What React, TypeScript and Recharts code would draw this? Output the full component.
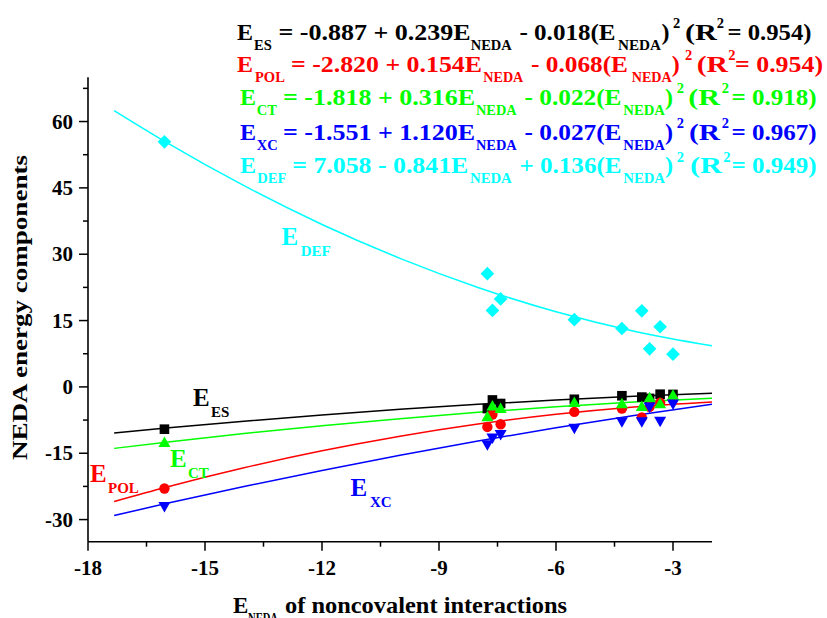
import React from 'react'
import { ComposedChart, Line, Scatter, XAxis, YAxis } from 'recharts'

// NEDA energy components vs E_NEDA, quadratic fits per component

const MOL_X = [-16.04, -7.76, -7.63, -7.42, -5.53, -4.31, -3.8, -3.6, -3.33, -3.0]
const ES = [-9.56, -4.9, -2.95, -3.75, -2.8, -2.0, -2.3, -2.6, -1.65, -1.7]
const POL = [-22.97, -9.05, -6.25, -8.45, -5.65, -4.9, -6.9, -4.5, -3.6, -2.8]
const CT = [-12.66, -6.8, -4.4, -4.97, -3.6, -3.9, -4.5, -2.5, -3.9, -1.95]
const XC = [-26.97, -13.0, -11.5, -10.7, -9.3, -7.8, -7.8, -4.5, -7.7, -3.8]
const DEF = [55.4, 25.6, 17.3, 19.9, 15.2, 13.2, 17.2, 8.6, 13.6, 7.4]

// fitted curves read at a few x positions
const FIT_X = [-17.33, -16, -14, -12, -10, -8, -6, -4, -2]
const ES_FIT = [-10.44, -9.32, -7.76, -6.35, -5.08, -3.95, -2.97, -2.13, -1.44]
const POL_FIT = [-25.91, -22.69, -18.3, -14.46, -11.16, -8.4, -6.19, -4.52, -3.4]
const CT_FIT = [-13.9, -12.51, -10.55, -8.78, -7.18, -5.75, -4.51, -3.43, -2.54]
const XC_FIT = [-29.07, -26.38, -22.52, -18.88, -15.45, -12.24, -9.24, -6.46, -3.9]
const DEF_FIT = [62.47, 55.33, 45.49, 36.73, 29.07, 22.49, 17.0, 12.6, 9.28]

const X_MAJOR = [-18, -15, -12, -9, -6, -3]
const X_MINOR = [-16.5, -13.5, -10.5, -7.5, -4.5]
const Y_MAJOR = [-30, -15, 0, 15, 30, 45, 60]
const Y_MINOR = [-22.5, -7.5, 7.5, 22.5, 37.5, 52.5, 67.5]

const FONT = "'Liberation Serif', 'Times New Roman', serif"
const TICK = 9
const GAP = 6

const pts = (ys: number[]) => MOL_X.map((x, i) => ({ x, y: ys[i] }))
const fit = (ys: number[]) => FIT_X.map((x, i) => ({ x, y: ys[i] }))

function YTick(props: any) {
  const { x, y, payload } = props
  const v = payload.value
  const major = Y_MAJOR.includes(v)
  const ax = x + TICK + GAP
  return (
    <g>
      <line x1={ax - (major ? 9 : 5)} x2={ax} y1={y} y2={y} stroke="#000" strokeWidth={1.5} />
      {major && (
        <text x={ax - 15} y={y} dy={7} textAnchor="end" fontFamily={FONT} fontWeight="bold" fontSize={21} fill="#000">
          {v}
        </text>
      )}
    </g>
  )
}

function XTick(props: any) {
  const { x, y, payload } = props
  const v = payload.value
  const major = X_MAJOR.includes(v)
  const ay = y - TICK - GAP
  return (
    <g>
      <line x1={x} x2={x} y1={ay} y2={ay + (major ? 9 : 5)} stroke="#000" strokeWidth={1.5} />
      {major && (
        <text x={x} y={ay + 33} textAnchor="middle" fontFamily={FONT} fontWeight="bold" fontSize={21} fill="#000">
          {v}
        </text>
      )}
    </g>
  )
}

const Square = (p: any) => <rect x={p.cx - 4.8} y={p.cy - 4.8} width={9.6} height={9.6} fill="#000" />
const Dot = (p: any) => <circle cx={p.cx} cy={p.cy} r={5.2} fill="#ff0000" />
const TriUp = (p: any) => (
  <path d={`M${p.cx},${p.cy - 6.3} L${p.cx + 6},${p.cy + 4.2} L${p.cx - 6},${p.cy + 4.2} Z`} fill="#00ff00" />
)
const TriDown = (p: any) => (
  <path d={`M${p.cx},${p.cy + 6.3} L${p.cx + 6},${p.cy - 4.2} L${p.cx - 6},${p.cy - 4.2} Z`} fill="#0000ff" />
)
const Diamond = (p: any) => (
  <path d={`M${p.cx},${p.cy - 6.8} L${p.cx + 6.8},${p.cy} L${p.cx},${p.cy + 6.8} L${p.cx - 6.8},${p.cy} Z`} fill="#00ffff" />
)

// one text run placed at x (optionally stretched to width w)
type Seg = [string, 'n' | 'sub' | 'sup', number, number?]

function Rich({ y, size, sub, color, segs }: { y: number; size: number; sub: number; color: string; segs: Seg[] }) {
  return (
    <g fontFamily={FONT} fontWeight="bold" fill={color}>
      {segs.map(([t, k, x, w], i) => (
        <text
          key={i}
          x={x}
          y={k === 'sub' ? y + size * 0.42 : k === 'sup' ? y - size * 0.48 : y}
          fontSize={k === 'n' ? size : sub}
          textLength={w}
          lengthAdjust={w ? 'spacingAndGlyphs' : undefined}
          style={{ whiteSpace: 'pre' }}
        >
          {t}
        </text>
      ))}
    </g>
  )
}

const ROW1: Seg[] = [
  ['E', 'n', 237], ['ES', 'sub', 254],
  ['= -0.887 + 0.239E', 'n', 278.5, 192], ['NEDA', 'sub', 470.7, 41],
  ['- 0.018(E', 'n', 519.5, 96], ['NEDA', 'sub', 618, 43],
  [')', 'n', 661.5], ['2', 'sup', 673], ['(R', 'n', 685, 32], ['2', 'sup', 716.7],
  ['= 0.954)', 'n', 727.5, 84],
]
const ROW2: Seg[] = [
  ['E', 'n', 237], ['POL', 'sub', 255],
  ['= -2.820 + 0.154E', 'n', 291, 191], ['NEDA', 'sub', 483.3, 40],
  ['- 0.068(E', 'n', 531, 97], ['NEDA', 'sub', 631.7, 40],
  [')', 'n', 671.7], ['2', 'sup', 685], ['(R', 'n', 696.7, 31.3], ['2', 'sup', 728.3],
  ['= 0.954)', 'n', 735, 88],
]
const ROW3: Seg[] = [
  ['E', 'n', 240], ['CT', 'sub', 256.7],
  ['= -1.818 + 0.316E', 'n', 283, 192], ['NEDA', 'sub', 476, 40.7],
  ['- 0.022(E', 'n', 524.5, 97], ['NEDA', 'sub', 623.3, 41.7],
  [')', 'n', 665], ['2', 'sup', 676.7], ['(R', 'n', 688.3, 31.7], ['2', 'sup', 721.7],
  ['= 0.918)', 'n', 731.5, 85],
]
const ROW4: Seg[] = [
  ['E', 'n', 240], ['XC', 'sub', 256.7],
  ['= -1.551 + 1.120E', 'n', 283, 192], ['NEDA', 'sub', 476, 40.7],
  ['- 0.027(E', 'n', 524.5, 97], ['NEDA', 'sub', 623.3, 41.7],
  [')', 'n', 665], ['2', 'sup', 676.7], ['(R', 'n', 689, 31], ['2', 'sup', 721.7],
  ['= 0.967)', 'n', 731.5, 85],
]
const ROW5: Seg[] = [
  ['E', 'n', 240], ['DEF', 'sub', 257.3],
  ['= 7.058 - 0.841E', 'n', 292.3, 176], ['NEDA', 'sub', 470, 41.7],
  ['+ 0.136(E', 'n', 519.5, 102], ['NEDA', 'sub', 623.3, 41.7],
  [')', 'n', 665], ['2', 'sup', 676.7], ['(R', 'n', 690, 32], ['2', 'sup', 723.3],
  ['= 0.949)', 'n', 731.5, 85],
]

export default function App() {
  return (
    <div style={{ position: 'absolute', left: 0, top: 0, width: 827, height: 618, background: '#fff' }}>
      <ComposedChart width={827} height={618} margin={{ top: 77.3, right: 115, bottom: 16.3, left: 28 }}>
        <XAxis
          type="number"
          dataKey="x"
          domain={[-18, -2]}
          ticks={[...X_MAJOR, ...X_MINOR].sort((a, b) => a - b)}
          tick={<XTick />}
          tickLine={false}
          tickSize={TICK}
          tickMargin={GAP}
          height={60}
          axisLine={{ stroke: '#000', strokeWidth: 1.6 }}
          allowDataOverflow
        />
        <YAxis
          type="number"
          dataKey="y"
          domain={[-35, 70]}
          ticks={[...Y_MAJOR, ...Y_MINOR].sort((a, b) => a - b)}
          tick={<YTick />}
          tickLine={false}
          tickSize={TICK}
          tickMargin={GAP}
          width={60}
          axisLine={{ stroke: '#000', strokeWidth: 1.6 }}
          allowDataOverflow
        />
        <Line data={fit(ES_FIT)} dataKey="y" type="monotone" stroke="#000000" strokeWidth={1.5} dot={false} isAnimationActive={false} />
        <Line data={fit(POL_FIT)} dataKey="y" type="monotone" stroke="#ff0000" strokeWidth={1.5} dot={false} isAnimationActive={false} />
        <Line data={fit(CT_FIT)} dataKey="y" type="monotone" stroke="#00ff00" strokeWidth={1.5} dot={false} isAnimationActive={false} />
        <Line data={fit(XC_FIT)} dataKey="y" type="monotone" stroke="#0000ff" strokeWidth={1.5} dot={false} isAnimationActive={false} />
        <Line data={fit(DEF_FIT)} dataKey="y" type="monotone" stroke="#00ffff" strokeWidth={1.5} dot={false} isAnimationActive={false} />
        <Scatter data={pts(ES)} dataKey="y" shape={Square} isAnimationActive={false} />
        <Scatter data={pts(POL)} dataKey="y" shape={Dot} isAnimationActive={false} />
        <Scatter data={pts(CT)} dataKey="y" shape={TriUp} isAnimationActive={false} />
        <Scatter data={pts(XC)} dataKey="y" shape={TriDown} isAnimationActive={false} />
        <Scatter data={pts(DEF)} dataKey="y" shape={Diamond} isAnimationActive={false} />
      </ComposedChart>
      <svg width={827} height={618} style={{ position: 'absolute', left: 0, top: 0, pointerEvents: 'none' }}>
        <Rich y={40} size={24} sub={14.5} color="#000000" segs={ROW1} />
        <Rich y={71.7} size={24} sub={14.5} color="#ff0000" segs={ROW2} />
        <Rich y={105} size={24} sub={14.5} color="#00ff00" segs={ROW3} />
        <Rich y={140} size={24} sub={14.5} color="#0000ff" segs={ROW4} />
        <Rich y={173.3} size={24} sub={14.5} color="#00ffff" segs={ROW5} />

        <Rich y={245} size={25} sub={15} color="#00ffff" segs={[['E', 'n', 281.5], ['DEF', 'sub', 300.7]]} />
        <Rich y={406} size={25} sub={15} color="#000000" segs={[['E', 'n', 193], ['ES', 'sub', 211]]} />
        <Rich y={467} size={25} sub={15} color="#00ff00" segs={[['E', 'n', 170], ['CT', 'sub', 188]]} />
        <Rich y={482} size={25} sub={15} color="#ff0000" segs={[['E', 'n', 90], ['POL', 'sub', 108]]} />
        <Rich y={496} size={25} sub={15} color="#0000ff" segs={[['E', 'n', 350.5], ['XC', 'sub', 370]]} />

        <Rich
          y={613}
          size={23}
          sub={14}
          color="#000000"
          segs={[['E', 'n', 233], ['NEDA', 'sub', 248, 30], ['of noncovalent interactions', 'n', 285, 282]]}
        />
        <text
          transform="translate(27, 307.5) rotate(-90)"
          textAnchor="middle"
          fontFamily={FONT}
          fontWeight="bold"
          fontSize={22}
          textLength={305}
          lengthAdjust="spacingAndGlyphs"
          fill="#000"
        >
          NEDA energy components
        </text>
      </svg>
    </div>
  )
}
